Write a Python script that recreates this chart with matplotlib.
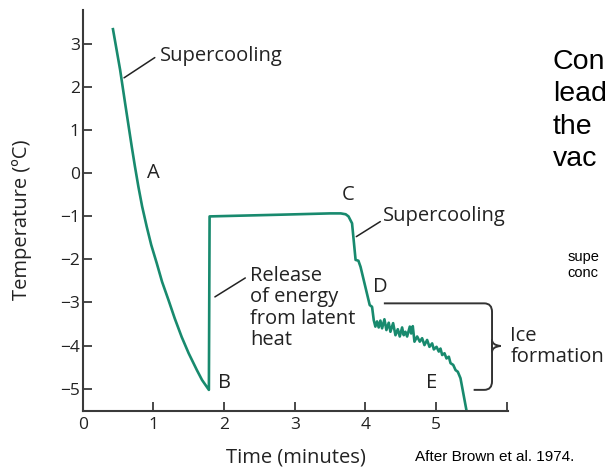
import matplotlib.pyplot as plt
from matplotlib.path import Path
from matplotlib.patches import PathPatch

# %%
# Freezing curve (time in minutes, temperature in degC)
time_min = [0.425, 0.529, 0.60, 0.694, 0.739, 0.788, 0.841, 0.906, 0.969, 1.048,
            1.123, 1.213, 1.302, 1.40, 1.499, 1.615, 1.688, 1.785,
            1.795, 2.80, 3.50, 3.65, 3.72, 3.76, 3.81,
            3.86, 3.90, 3.93, 4.060, 4.093,
            4.117, 4.140, 4.164, 4.187, 4.211, 4.235, 4.268, 4.296, 4.329, 4.353,
            4.391, 4.424, 4.457, 4.485, 4.518, 4.541, 4.565, 4.589, 4.627, 4.646,
            4.669, 4.693, 4.731, 4.768, 4.801, 4.834, 4.872, 4.905, 4.943, 4.967,
            5.005, 5.037, 5.061, 5.085, 5.118, 5.146, 5.179, 5.203, 5.241, 5.274,
            5.306, 5.344, 5.43]
temp_c = [3.38, 2.41, 1.63, 0.62, 0.16, -0.31, -0.77, -1.24, -1.66, -2.09,
          -2.52, -2.94, -3.37, -3.80, -4.18, -4.57, -4.80, -5.03,
          -1.0, -0.96, -0.93, -0.93, -0.95, -1.0, -1.16,
          -2.01, -2.03, -2.17, -3.06, -3.10,
          -3.41, -3.56, -3.44, -3.58, -3.42, -3.60, -3.39, -3.64, -3.47, -3.68,
          -3.48, -3.76, -3.62, -3.79, -3.58, -3.76, -3.68, -3.79, -3.56, -3.72,
          -3.55, -3.91, -3.79, -3.91, -3.83, -3.99, -3.87, -4.03, -3.95, -4.09,
          -4.03, -4.14, -4.07, -4.22, -4.18, -4.30, -4.26, -4.41, -4.45, -4.57,
          -4.61, -4.76, -5.52]

x_ticks = [0, 1, 2, 3, 4, 5, 6]
x_tick_labels = ["0", "1", "2", "3", "4", "5", ""]
y_ticks = [-5, -4, -3, -2, -1, 0, 1, 2, 3]
y_tick_labels = ["\u22125", "\u22124", "\u22123", "\u22122", "\u22121", "0", "1", "2", "3"]

# point labels: (text, t, T)
point_labels = [("A", 0.995, 0.0), ("B", 2.0, -4.87), ("C", 3.75, -0.5),
                ("D", 4.21, -2.63), ("E", 4.94, -4.88)]

curve_color = "#188a6e"
axis_color = "#3a3a3a"
font = "Open Sans"

# %%
fig = plt.figure(figsize=(6.08, 4.67), dpi=100)
ax = fig.add_axes([0.136, 0.12, 0.7, 0.859])

ax.plot(time_min, temp_c, color=curve_color, lw=1.9, solid_joinstyle="round",
        solid_capstyle="butt")

ax.set_xlim(0, 6.02)
ax.set_ylim(-5.52, 3.8)
for side in ["top", "right"]:
    ax.spines[side].set_visible(False)
for side in ["left", "bottom"]:
    ax.spines[side].set_color(axis_color)
    ax.spines[side].set_linewidth(1.5)

ax.set_xticks(x_ticks, x_tick_labels)
ax.set_yticks(y_ticks, y_tick_labels)
ax.tick_params(direction="in", length=6.5, width=1.3, color=axis_color,
               labelsize=12.5, labelcolor="#222222")
ax.tick_params(axis="y", pad=2)
ax.tick_params(axis="x", pad=4)
for lbl in ax.get_xticklabels() + ax.get_yticklabels():
    lbl.set_fontfamily(font)

txt = dict(fontfamily=font, fontsize=14.5, color="#222222")

for name, t, v in point_labels:
    ax.text(t, v, name, ha="center", va="center", **txt)

# leaders + labels
lead = dict(arrowstyle="-", color="#222222", lw=1.1, shrinkA=0, shrinkB=0)
ax.annotate("", xy=(0.585, 2.22), xytext=(1.02, 2.69), arrowprops=lead)
ax.text(1.09, 2.72, "Supercooling", ha="left", va="center", **txt)

ax.annotate("", xy=(3.87, -1.47), xytext=(4.21, -1.12), arrowprops=lead)
ax.text(4.25, -1.0, "Supercooling", ha="left", va="center", **txt)

ax.annotate("", xy=(1.87, -2.87), xytext=(2.30, -2.43), arrowprops=lead)
ax.text(2.37, -3.13, "Release\nof energy\nfrom latent\nheat", ha="left",
        va="center", linespacing=1.1, **txt)

# brace for ice formation
xl, xb, xt = 5.68, 5.79, 5.91
y_top, y_mid, y_bot = -3.02, -4.01, -5.03
verts = [(4.26, y_top), (xl, y_top),
         (xb, y_top), (xb, y_top - 0.2),
         (xb, y_mid - 0.14),
         (xb, y_mid - 0.02), (xt, y_mid),
         (xb, y_mid + 0.02), (xb, y_mid + 0.14),
         (xb, y_bot + 0.2),
         (xb, y_bot), (xl, y_bot),
         (5.53, y_bot)]
codes = [Path.MOVETO, Path.LINETO,
         Path.CURVE3, Path.CURVE3,
         Path.LINETO,
         Path.CURVE3, Path.CURVE3,
         Path.CURVE3, Path.CURVE3,
         Path.LINETO,
         Path.CURVE3, Path.CURVE3,
         Path.LINETO]
ax.add_patch(PathPatch(Path(verts, codes), fill=False, ec="#333333", lw=1.4,
                       clip_on=False))
ax.text(6.05, -4.02, "Ice\nformation", ha="left", va="center", linespacing=1.1,
        **txt)

# axis titles
fig.text(0.487, 0.021, "Time (minutes)", ha="center", va="center", **txt)
fig.text(0.037, 0.53, "Temperature (\u00baC)", ha="center", va="center",
         rotation=90, **txt)

# slide text around the figure
fig.text(0.683, 0.021, "After Brown et al. 1974.", ha="left", va="center",
         fontfamily="Liberation Sans", fontsize=11, color="black")
for i, word in enumerate(["Con", "lead", "the", "vac"]):
    fig.text(0.909, 1 - (62 + 32.3 * i) / 467, word, ha="left", va="center",
             fontfamily="Liberation Sans", fontsize=20.5, color="black")
fig.text(0.934, 1 - 257 / 467, "supe", ha="left", va="center",
         fontfamily="Liberation Sans", fontsize=10.5, color="black")
fig.text(0.934, 1 - 273 / 467, "conc", ha="left", va="center",
         fontfamily="Liberation Sans", fontsize=10.5, color="black")

fig.savefig("out.png", dpi=100)
